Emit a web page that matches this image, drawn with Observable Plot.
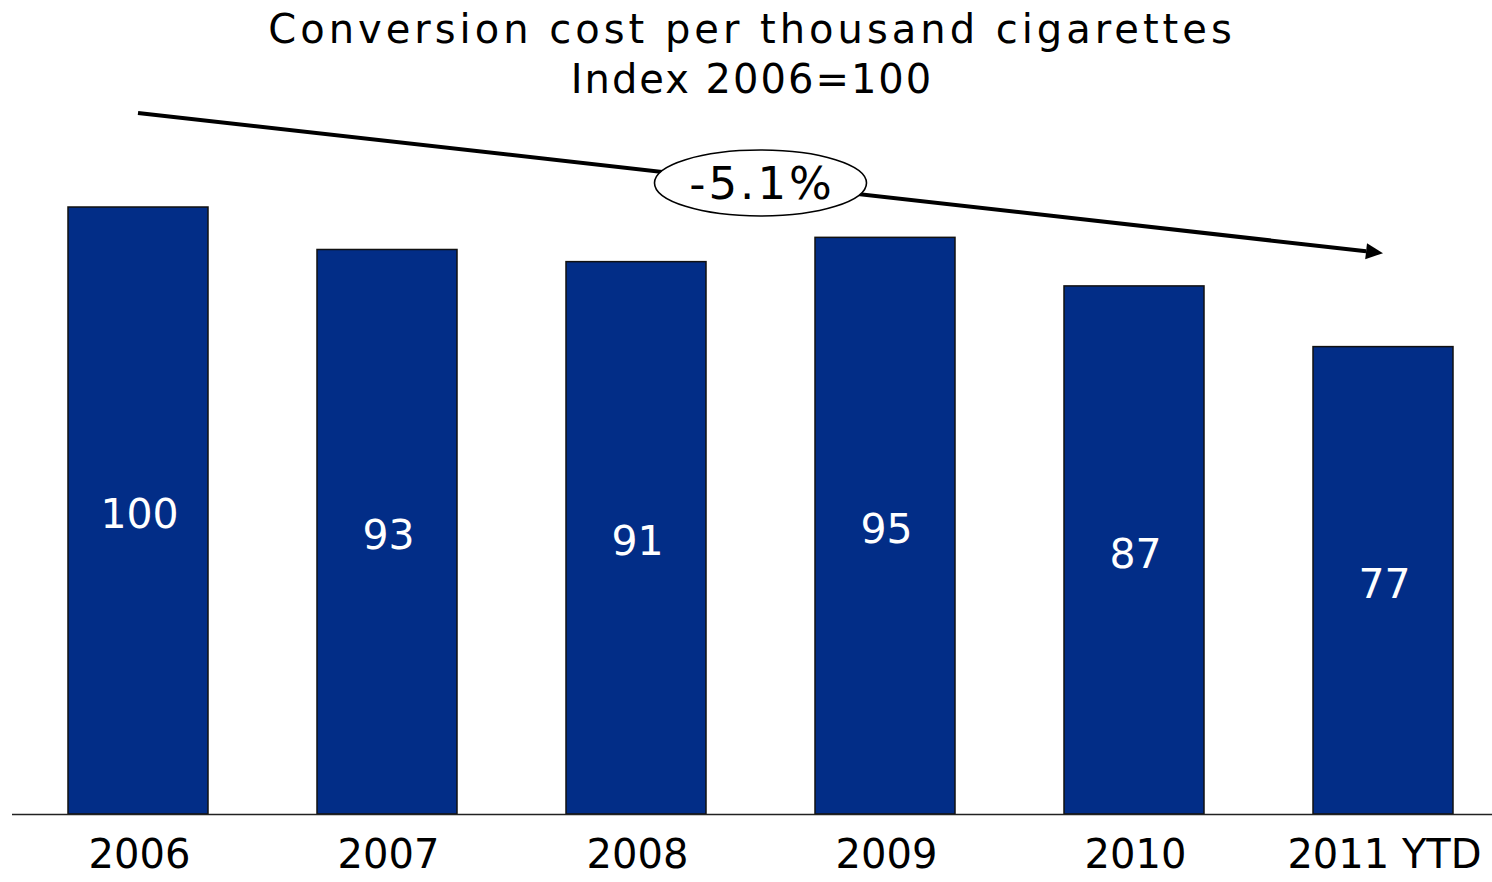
<!DOCTYPE html>
<html>
<head>
<meta charset="utf-8">
<script src="https://cdn.jsdelivr.net/npm/d3@7"></script>
<script src="https://cdn.jsdelivr.net/npm/@observablehq/plot@0.6"></script>
<style>
  html, body { margin: 0; padding: 0; background: #fff; }
  #title { height: 105px; box-sizing: border-box; padding-top: 4px; text-align: center;
    font-family: "DejaVu Sans", Verdana, sans-serif; font-size: 40px; line-height: 50px; color: #000; }
  #title .l1 { letter-spacing: 4px; padding-left: 12px; }
  #title .l2 { letter-spacing: 2px; padding-left: 12px; }
  #chart svg { display: block; }
</style>
</head>
<body>
<div id="title"><div class="l1">Conversion cost per thousand cigarettes</div><div class="l2">Index 2006=100</div></div>
<div id="chart"></div>
<script>
const categories = ["2006", "2007", "2008", "2009", "2010", "2011 YTD"];
const values = [100, 93, 91, 95, 87, 77];
const trendFrom = {category: "2006", value: 115.5};
const trendTo = {category: "2011 YTD", value: 92.4};
const trendLabel = "-5.1%";

const data = categories.map((c, i) => ({category: c, value: values[i]}));
const barColor = "#022d87";

function trendMark(index, scales) {
  const x = scales.x, y = scales.y;
  const bw = (typeof x.bandwidth === "function") ? x.bandwidth() : 0;
  const x1 = x(trendFrom.category) + bw / 2, y1 = y(trendFrom.value);
  const x2 = x(trendTo.category) + bw / 2, y2 = y(trendTo.value);
  const ang = Math.atan2(y2 - y1, x2 - x1);
  const head = 17, half = 8;
  const bx = x2 - head * Math.cos(ang), by = y2 - head * Math.sin(ang);
  const g = d3.create("svg:g");
  g.append("line").attr("x1", x1).attr("y1", y1).attr("x2", bx).attr("y2", by)
    .attr("stroke", "#000").attr("stroke-width", 4);
  const px = -Math.sin(ang) * half, py = Math.cos(ang) * half;
  g.append("path").attr("d", `M${x2},${y2}L${bx + px},${by + py}L${bx - px},${by - py}Z`).attr("fill", "#000");
  const mx = (x1 + x2) / 2, my = (y1 + y2) / 2;
  g.append("ellipse").attr("cx", mx).attr("cy", my).attr("rx", 106).attr("ry", 33)
    .attr("fill", "#fff").attr("stroke", "#000").attr("stroke-width", 1.6);
  g.append("text").attr("x", mx + 1.5).attr("y", my).attr("dy", "0.36em").attr("text-anchor", "middle")
    .attr("font-family", "DejaVu Sans, Verdana, sans-serif").attr("font-size", 45)
    .attr("letter-spacing", 3).attr("fill", "#000")
    .text(trendLabel);
  return g.node();
}

const chart = Plot.plot({
  width: 1492,
  height: 777,
  marginLeft: 12,
  marginRight: 0,
  marginTop: 102,
  marginBottom: 68,
  style: {fontFamily: "DejaVu Sans, Verdana, sans-serif", background: "#fff"},
  x: {domain: categories, range: [12.95, 1507.55], paddingInner: 0.438, paddingOuter: 0.219, label: null},
  y: {domain: [0, 100], axis: null},
  marks: [
    Plot.barY(data, {x: "category", y: "value", fill: barColor, stroke: "#111", strokeWidth: 1.5}),
    Plot.text(data, {x: "category", y: d => d.value / 2, text: d => String(d.value), fill: "#fff",
      fontSize: 41, dy: 4, dx: 1, style: {letterSpacing: "2px"}}),
    Plot.ruleY([0], {stroke: "#222", strokeWidth: 1.5}),
    Plot.axisX({tickSize: 0, tickPadding: 25, fontSize: 40, label: null, fill: "#000", dx: 1,
      style: {letterSpacing: "1.8px"}}),
    trendMark
  ]
});
document.getElementById("chart").appendChild(chart);
</script>
</body>
</html>
